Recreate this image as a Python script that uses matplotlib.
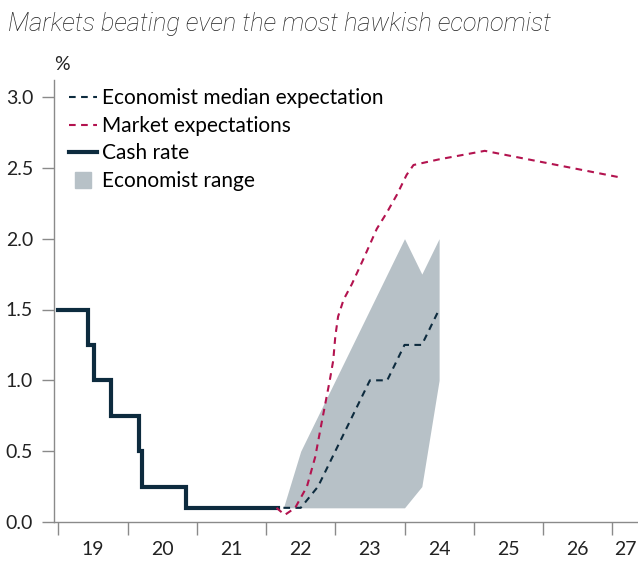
import numpy as np
import matplotlib
matplotlib.use("Agg")
from matplotlib import pyplot as plt
from matplotlib.lines import Line2D

# cash rate (step changes, decimal years)
cash_dates = [2019.0, 2019.42, 2019.51, 2019.76, 2020.17, 2020.21, 2020.84, 2022.17]
cash_rate = [1.5, 1.25, 1.0, 0.75, 0.5, 0.25, 0.1, 0.1]

# economist median and range, quarterly
econ_dates = [2022.25, 2022.5, 2022.75, 2023.0, 2023.25, 2023.5, 2023.75, 2024.0, 2024.25, 2024.5]
econ_median = [0.1, 0.1, 0.25, 0.5, 0.75, 1.0, 1.0, 1.25, 1.25, 1.5]
econ_low = [0.1, 0.1, 0.1, 0.1, 0.1, 0.1, 0.1, 0.1, 0.25, 1.0]
econ_high = [0.1, 0.5, 0.75, 1.0, 1.25, 1.5, 1.75, 2.0, 1.75, 2.0]

# market pricing
mkt_dates = [2022.15, 2022.27, 2022.42, 2022.59, 2022.71, 2022.81, 2022.92, 2022.97,
             2023.0, 2023.04, 2023.12, 2023.24, 2023.4, 2023.6, 2023.74, 2023.89,
             2024.03, 2024.13, 2024.5, 2025.16, 2027.14]
mkt_rate = [0.1, 0.05, 0.1, 0.25, 0.46, 0.72, 1.0, 1.14,
            1.31, 1.45, 1.57, 1.68, 1.85, 2.07, 2.18, 2.31,
            2.45, 2.52, 2.56, 2.62, 2.43]

year_labels = ["19", "20", "21", "22", "23", "24", "25", "26", "27"]
y_ticks = [0.0, 0.5, 1.0, 1.5, 2.0, 2.5, 3.0]

NAVY = "#0d2b3e"
RED = "#b3134f"
GREY = "#b7c1c7"
AXIS = "#8a8a8a"
DASH = (0, (3.2, 2.6))

plt.rcParams["font.family"] = ["Lato", "DejaVu Sans"]

fig = plt.figure(figsize=(6.38, 5.62), dpi=100)
ax = fig.add_axes([54 / 638, 40 / 562, 1 - 54 / 638, (522 - 80) / 562])

ax.fill_between(econ_dates, econ_low, econ_high, color=GREY, linewidth=0, zorder=1)
ax.step(cash_dates, cash_rate, where="post", color=NAVY, linewidth=3, zorder=3,
        solid_joinstyle="miter")
ax.plot(econ_dates, econ_median, color=NAVY, linewidth=1.5, linestyle=DASH, zorder=4)
ax.plot(mkt_dates, mkt_rate, color=RED, linewidth=1.5, linestyle=DASH, zorder=4)

ax.set_xlim(2018.935, 2027.374)
ax.set_ylim(0, 3.12)

for side in ["top", "right"]:
    ax.spines[side].set_visible(False)
for side in ["left", "bottom"]:
    ax.spines[side].set_color(AXIS)
    ax.spines[side].set_linewidth(1)

ax.set_yticks(y_ticks)
ax.set_yticklabels(["%.1f" % v for v in y_ticks])
ax.tick_params(axis="y", direction="out", length=9, width=1, color=AXIS,
               labelsize=14, pad=6, labelcolor="#222222")

years = np.arange(2019, 2028)
ax.set_xticks(years)
ax.set_xticklabels([])
label_pos = list(years[:-1] + 0.5) + [2027.19]
ax.set_xticks(label_pos, minor=True)
ax.set_xticklabels(year_labels, minor=True)
ax.tick_params(axis="x", which="major", direction="out", length=9, width=1, color=AXIS)
ax.tick_params(axis="x", which="minor", length=0, labelsize=14, pad=14, labelcolor="#222222")

fig.text(8 / 638, 1 - 24 / 562, "Markets beating even the most hawkish economist",
         fontsize=18.4, style="italic", fontweight="light", family=["Roboto", "DejaVu Sans"],
         va="center", ha="left", color="#222222")
fig.text(62 / 638, 1 - 64 / 562, "%", fontsize=14, ha="center", va="center", color="#222222")

handles = [
    Line2D([], [], color=NAVY, linewidth=1.5, linestyle=DASH),
    Line2D([], [], color=RED, linewidth=1.5, linestyle=DASH),
    Line2D([], [], color=NAVY, linewidth=3),
    Line2D([], [], color=GREY, marker="s", markersize=11, linestyle="none"),
]
labels = ["Economist median expectation", "Market expectations", "Cash rate", "Economist range"]
ax.legend(handles, labels, loc="upper left", bbox_to_anchor=(0.015, 0.995), frameon=False,
          fontsize=15, handlelength=1.35, handletextpad=0.25, labelspacing=0.36,
          borderaxespad=0.1, borderpad=0.2)

fig.savefig("out.png", dpi=100)
